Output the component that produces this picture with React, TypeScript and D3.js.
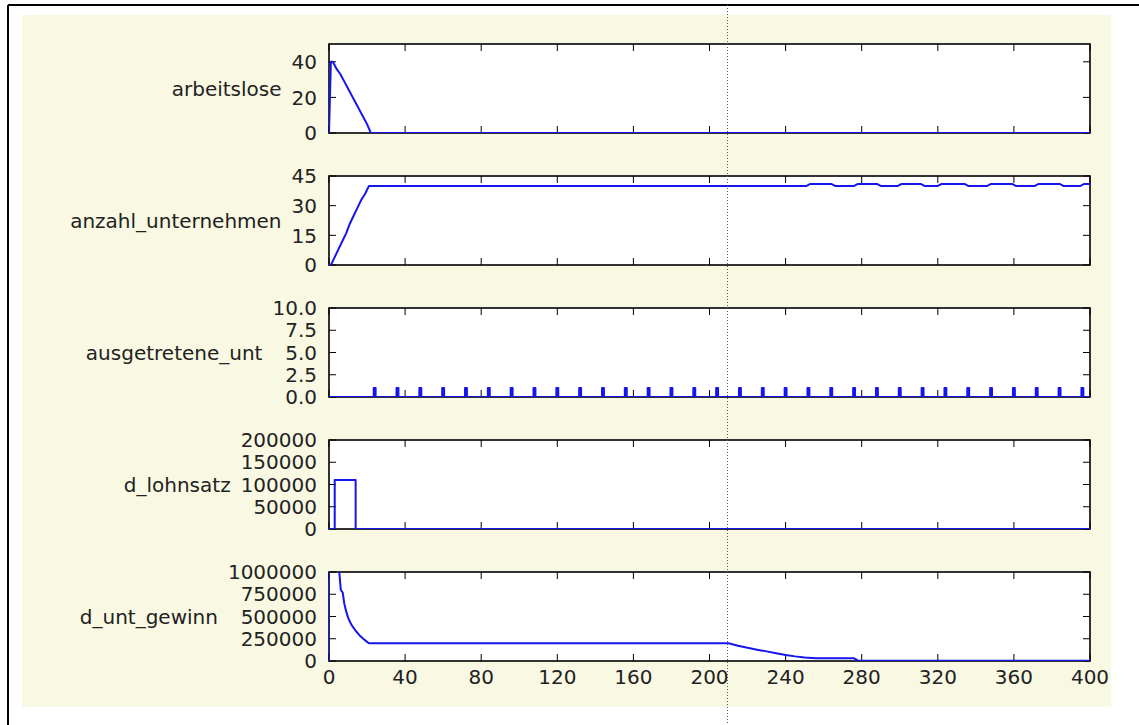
import { useEffect, useRef } from "react";
import * as d3 from "d3";

// x axis (time steps)
const xTicks = [0, 40, 80, 120, 160, 200, 240, 280, 320, 360, 400];

// y tick labels per panel
const arbeitsloseTicks = [0, 20, 40];
const anzahlTicks = [0, 15, 30, 45];
const ausgetreteneTicks = [0, 2.5, 5, 7.5, 10];
const lohnsatzTicks = [0, 50000, 100000, 150000, 200000];
const gewinnTicks = [0, 250000, 500000, 750000, 1000000];

// series: [t, value]
const arbeitslose = [
  [0, 0], [1, 40], [2, 40], [4, 36], [6, 33], [8, 29], [10, 25], [12, 21],
  [14, 17], [16, 13], [18, 9], [20, 5], [22, 0], [400, 0],
];

const anzahlUnternehmen = [
  [0, 0], [1, 0], [3, 4], [5, 8], [7, 12], [9, 16], [11, 21], [13, 25],
  [15, 29], [17, 33], [19, 36], [21, 40], [251, 40], [253, 41], [264, 41],
  [266, 40], [276, 40], [278, 41], [288, 41], [290, 40], [299, 40], [301, 41],
  [311, 41], [313, 40], [320, 40], [322, 41], [334, 41], [336, 40], [346, 40],
  [348, 41], [359, 41], [361, 40], [371, 40], [373, 41], [384, 41], [386, 40],
  [395, 40], [397, 41], [400, 41],
];

// exits: one firm leaves at these steps
const ausgetretene = [
  [24, 1], [36, 1], [48, 1], [60, 1], [72, 1], [84, 1], [96, 1], [108, 1],
  [120, 1], [132, 1], [144, 1], [156, 1], [168, 1], [180, 1], [192, 1],
  [204, 1], [216, 1], [228, 1], [240, 1], [252, 1], [264, 1], [276, 1],
  [288, 1], [300, 1], [312, 1], [324, 1], [336, 1], [348, 1], [360, 1],
  [372, 1], [384, 1], [396, 1],
];

const dLohnsatz = [
  [0, 0], [3, 0], [3, 110000], [14, 110000], [14, 0], [400, 0],
];

const dUntGewinn = [
  [0, 0], [0.05, 5000000], [3, 2000000], [5.4, 1000000], [6.2, 800000],
  [7.2, 770000], [8, 650000], [9, 560000], [10, 490000], [11, 440000],
  [12, 400000], [14, 340000], [16, 290000], [18, 250000], [20, 215000],
  [21, 200000], [210, 200000], [215, 172000], [220, 148000], [225, 127000],
  [230, 108000], [235, 88000], [240, 68000], [245, 52000], [250, 40000],
  [256, 32000], [262, 30000], [276, 30000], [278, 4000], [400, 4000],
];

const panelNames = [
  "arbeitslose",
  "anzahl_unternehmen",
  "ausgetretene_unt",
  "d_lohnsatz",
  "d_unt_gewinn",
];

function spikes(events) {
  // each exit drawn as a narrow 1-step pulse
  const pts = [[0, 0]];
  events.forEach(([t, v]) => {
    pts.push([t - 0.5, 0], [t - 0.5, v], [t + 0.5, v], [t + 0.5, 0]);
  });
  pts.push([400, 0]);
  return pts;
}

function App() {
  const ref = useRef<SVGSVGElement>(null);

  const width = 1139;
  const height = 725;
  const plotLeft = 329;
  const plotRight = 1090;
  const firstTop = 44;
  const pitch = 132;
  const plotH = 89;
  const fontFamily = "'DejaVu Sans', sans-serif";
  const textColor = "#222";
  const lineColor = "#1515f0";
  const tickLen = 7;

  useEffect(() => {
    const svg = d3.select(ref.current);
    svg.selectAll("*").remove();

    // frame + figure background
    svg.append("rect").attr("width", width).attr("height", height).attr("fill", "#fff");
    svg.append("rect")
      .attr("x", 22).attr("y", 15)
      .attr("width", 1111 - 22).attr("height", 707 - 15)
      .attr("fill", "#f9f8e2");
    svg.append("line").attr("x1", 8).attr("x2", 8).attr("y1", 5).attr("y2", height)
      .attr("stroke", "#000").attr("stroke-width", 2);
    svg.append("line").attr("x1", 8).attr("x2", width).attr("y1", 5).attr("y2", 5)
      .attr("stroke", "#000").attr("stroke-width", 2);

    const xScale = d3.scaleLinear([0, 400], [plotLeft, plotRight]);

    const panels = [
      { data: arbeitslose, ticks: arbeitsloseTicks, max: 50, fmt: d3.format("d") },
      { data: anzahlUnternehmen, ticks: anzahlTicks, max: 45, fmt: d3.format("d") },
      { data: spikes(ausgetretene), ticks: ausgetreteneTicks, max: 10, fmt: d3.format(".1f") },
      { data: dLohnsatz, ticks: lohnsatzTicks, max: 200000, fmt: d3.format("d") },
      { data: dUntGewinn, ticks: gewinnTicks, max: 1000000, fmt: d3.format("d") },
    ];

    panels.forEach((p, i) => {
      const top = firstTop + i * pitch;
      const bottom = top + plotH;
      const yScale = d3.scaleLinear([0, p.max], [bottom, top]);
      const g = svg.append("g").attr("class", "panel-" + i);

      g.append("rect")
        .attr("x", plotLeft).attr("y", top)
        .attr("width", plotRight - plotLeft).attr("height", plotH)
        .attr("fill", "#fff");

      // inward ticks on all four sides
      xTicks.forEach(t => {
        const x = xScale(t);
        g.append("line").attr("x1", x).attr("x2", x).attr("y1", bottom).attr("y2", bottom - tickLen)
          .attr("stroke", "#000");
        g.append("line").attr("x1", x).attr("x2", x).attr("y1", top).attr("y2", top + tickLen)
          .attr("stroke", "#000");
      });
      p.ticks.forEach(v => {
        const y = yScale(v);
        g.append("line").attr("x1", plotLeft).attr("x2", plotLeft + tickLen).attr("y1", y).attr("y2", y)
          .attr("stroke", "#000");
        g.append("line").attr("x1", plotRight).attr("x2", plotRight - tickLen).attr("y1", y).attr("y2", y)
          .attr("stroke", "#000");
      });

      g.append("rect")
        .attr("x", plotLeft).attr("y", top)
        .attr("width", plotRight - plotLeft).attr("height", plotH)
        .attr("fill", "none").attr("stroke", "#000").attr("stroke-width", 1.6);

      // series line, clipped to the axes box
      const clipId = "clip-" + i;
      svg.append("clipPath").attr("id", clipId)
        .append("rect")
        .attr("x", plotLeft).attr("y", top)
        .attr("width", plotRight - plotLeft).attr("height", plotH);

      const line = d3.line()
        .x(d => xScale(d[0]))
        .y(d => yScale(d[1]));

      g.append("path")
        .attr("d", line(p.data))
        .attr("clip-path", `url(#${clipId})`)
        .attr("fill", "none")
        .attr("stroke", lineColor)
        .attr("stroke-width", 2)
        .attr("stroke-linejoin", "round");

      // y tick labels
      const labels = g.append("g");
      p.ticks.forEach(v => {
        labels.append("text")
          .text(p.fmt(v))
          .attr("x", plotLeft - 12)
          .attr("y", yScale(v))
          .attr("dy", "0.36em")
          .attr("text-anchor", "end")
          .style("font-family", fontFamily)
          .style("font-size", "20px")
          .attr("fill", textColor);
      });
      const labelBox = (labels.node() as SVGGElement).getBBox();

      // horizontal y label to the left of the tick labels
      g.append("text")
        .text(panelNames[i])
        .attr("x", labelBox.x - 10)
        .attr("y", (top + bottom) / 2)
        .attr("dy", "0.36em")
        .attr("text-anchor", "end")
        .style("font-family", fontFamily)
        .style("font-size", "20px")
        .attr("fill", textColor);

      // x tick labels only on the last panel
      if (i === panels.length - 1) {
        xTicks.forEach(t => {
          g.append("text")
            .text(t)
            .attr("x", xScale(t))
            .attr("y", bottom + 23)
            .attr("text-anchor", "middle")
            .style("font-family", fontFamily)
            .style("font-size", "20px")
            .attr("fill", textColor);
        });
      }
    });

    // cursor line
    svg.append("line")
      .attr("x1", 727.5).attr("x2", 727.5).attr("y1", 5).attr("y2", height)
      .attr("stroke", "#555").attr("stroke-width", 1)
      .attr("stroke-dasharray", "1,2");
  }, []);

  return (
    <svg
      ref={ref}
      width={width}
      height={height}
      style={{ position: "absolute", left: 0, top: 0, display: "block" }}
    />
  );
}

export default App;
